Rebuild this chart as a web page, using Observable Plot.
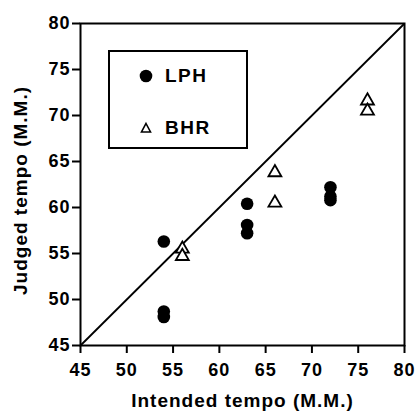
<!DOCTYPE html>
<html>
<head>
<meta charset="utf-8">
<script src="https://cdn.jsdelivr.net/npm/d3@7"></script>
<script src="https://cdn.jsdelivr.net/npm/@observablehq/plot@0.6"></script>
<style>
  html, body { margin: 0; padding: 0; background: #fff; }
  #wrap { position: relative; width: 415px; height: 412px; font-family: "Liberation Sans", Arial, sans-serif; }
  #wrap svg text { letter-spacing: 1px; }
  #legend { position: absolute; left: 108px; top: 50px; width: 136px; height: 95px; border: 2px solid #000; background: #fff; }
  #legend .item { position: absolute; left: 29px; display: flex; align-items: center; font-size: 19px; font-weight: bold; letter-spacing: 1.5px; }
  #legend .item svg { margin-right: 12px; }
</style>
</head>
<body>
<div id="wrap"></div>
<script>
// Data
const series = ["LPH", "BHR"];
const lphIntended = [54, 54, 54, 63, 63, 63, 72, 72, 72];
const lphJudged   = [56.3, 48.7, 48.1, 60.4, 58.1, 57.2, 62.2, 61.2, 60.8];
const bhrIntended = [56, 56, 66, 66, 76, 76];
const bhrJudged   = [55.5, 54.7, 63.8, 60.5, 71.6, 70.5];
const xTicks = [45, 50, 55, 60, 65, 70, 75, 80];
const yTicks = [45, 50, 55, 60, 65, 70, 75, 80];
const identity = [45, 80];

const lph = lphIntended.map((x, i) => ({x, y: lphJudged[i]}));
const bhr = bhrIntended.map((x, i) => ({x, y: bhrJudged[i]}));

const chart = Plot.plot({
  width: 415,
  height: 412,
  marginLeft: 80,
  marginRight: 11,
  marginTop: 23,
  marginBottom: 67,
  style: {fontFamily: "'Liberation Sans', Arial, sans-serif", fontWeight: "bold", color: "#000", background: "#fff", fontSize: "18px"},
  x: {domain: [45, 80]},
  y: {domain: [45, 80]},
  marks: [
    Plot.frame({stroke: "#000", strokeWidth: 2}),
    Plot.link([identity], {x1: d => d[0], y1: d => d[0], x2: d => d[1], y2: d => d[1], stroke: "#000", strokeWidth: 1.8}),
    Plot.dot(lph, {x: "x", y: "y", r: 6.3, fill: "#000", stroke: "none"}),
    Plot.dot(bhr, {x: "x", y: "y", symbol: "triangle", r: 4.8, fill: "#fff", stroke: "#000", strokeWidth: 1.8}),
    Plot.axisX({ticks: xTicks, tickSize: 8, tickPadding: 10, fontSize: 18, fill: "#000", strokeWidth: 2, label: null}),
    Plot.axisY({ticks: yTicks, tickSize: 8, tickPadding: 2, fontSize: 18, fill: "#000", strokeWidth: 2, label: null}),
    Plot.text(["Intended tempo (M.M.)"], {frameAnchor: "bottom", dy: 61, fontSize: 19, fill: "#000", text: d => d}),
    Plot.text(["Judged tempo (M.M.)"], {frameAnchor: "left", dx: -60, dy: 6, rotate: -90, textAnchor: "middle", fontSize: 19, fill: "#000", text: d => d})
  ]
});

const wrap = document.getElementById("wrap");
wrap.appendChild(chart);

const legend = document.createElement("div");
legend.id = "legend";
const symbols = {
  LPH: '<svg width="14" height="14"><circle cx="7" cy="7" r="6.3" fill="#000"/></svg>',
  BHR: '<svg width="14" height="14"><path d="M7,2.5 L11.5,11 L2.5,11 Z" fill="#fff" stroke="#000" stroke-width="1.6"/></svg>'
};
series.forEach((s, i) => {
  const item = document.createElement("div");
  item.className = "item";
  item.style.top = (i === 0 ? 13 : 65) + "px";
  item.innerHTML = symbols[s] + "<span>" + s + "</span>";
  legend.appendChild(item);
});
wrap.appendChild(legend);
</script>
</body>
</html>
